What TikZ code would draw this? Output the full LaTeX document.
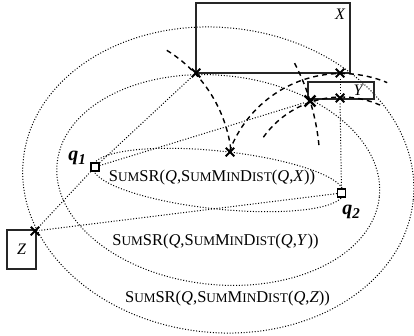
\documentclass[tikz,border=0pt]{standalone}
\usepackage{fontspec}
\setmainfont{Liberation Serif}
\usetikzlibrary{shapes.misc}
\newcommand\smc[1]{{\fontsize{13.2}{13.2}\selectfont #1}}
\newcommand\qlab[1]{{\fontsize{20}{20}\selectfont\bfseries\itshape q\raisebox{-4pt}{\fontsize{15}{15}\selectfont #1}}}
\begin{document}
\begin{tikzpicture}[x=1pt,y=-1pt,
  dotline/.style={line width=1pt, dash pattern=on 1pt off 1.8pt},
  dashline/.style={line width=1.4pt, dash pattern=on 5pt off 4pt},
  box/.style={draw=black!85, line width=1.2pt, inner sep=0, rectangle},
  xmark/.style={cross out, draw, line width=2pt, minimum size=6.5pt, inner sep=0},
  qbox/.style={draw, fill=white, line width=1.1pt, minimum size=8pt, inner sep=0},
  lbl/.style={font=\fontsize{16.5}{18}\selectfont, inner sep=0},
  let/.style={font=\fontsize{16}{18}\selectfont\itshape, inner sep=0}]
\useasboundingbox (0,0) rectangle (414,335);

\coordinate (Q1c) at (95,167);
\coordinate (Q2c) at (341.5,193);
\coordinate (E) at (218.25,180);

% ellipses with foci q1, q2
\draw[dotline, rotate around={-6.03:(E)}] (E) ellipse [x radius=126, y radius=29];
\draw[dotline, rotate around={-6.03:(E)}] (E) ellipse [x radius=162, y radius=104.6];
\draw[dotline, rotate around={-6.03:(E)}] (E) ellipse [x radius=196, y radius=152.5];

% rectangles
\node[box, minimum width=154, minimum height=70] (X) at (273,38) {};
\node[box, minimum width=66, minimum height=17] (Y) at (341,90.5) {};
\node[box, minimum width=29, minimum height=39] (Z) at (21.5,249.5) {};
\node[let] (Xl) at (340,14) {X};
\node[let] (Yl) at (358,90) {Y};
\node[let] (Zl) at (21.5,249) {Z};

% query points
\node[qbox] (q1) at (Q1c) {};
\node[qbox] (q2) at (Q2c) {};
\node[inner sep=0] (q1l) at (77,158) {\qlab{1}};
\node[inner sep=0] (q2l) at (351,212) {\qlab{2}};

% crosses
\node[xmark] (cX1) at (196,73) {};
\node[xmark] (cX2) at (340,73) {};
\node[xmark] (cY) at (340,98) {};
\node[xmark, minimum size=8.5pt, line width=2.4pt] (cB) at (310,101) {};
\node[xmark] (cM) at (230,152) {};
\node[xmark] (cZ) at (35,231) {};

% dotted straight connectors
\draw[dotline] (q1) -- (cX1);
\draw[dotline] (q1) -- (cB);
\draw[dotline] (q1) -- (cZ);
\draw[dotline] (q2) -- (cZ);
\draw[dotline] (q2) -- (cY);
\draw[dotline] (cY) -- (cX2);

% dashed circular arcs
\draw[dashline] (Q1c) ++(-58.4:137) arc[start angle=-58.4, end angle=-6.3, radius=137];
\draw[dashline] (Q1c) ++(-27.5:225) arc[start angle=-27.5, end angle=-5, radius=225];
\draw[dashline] (Q2c) ++(-159.8:119.5) arc[start angle=-159.8, end angle=-67.5, radius=119.5];
\draw[dashline] (Q2c) ++(-144.5:96) arc[start angle=-144.5, end angle=-64, radius=96];

% texts
\node[lbl, anchor=base] (t1) at (212,181) {S\smc{UM}SR(\textit{Q},S\smc{UM}M\smc{IN}D\smc{IST}(\textit{Q},\textit{X}))};
\node[lbl, anchor=base] (t2) at (215.5,245) {S\smc{UM}SR(\textit{Q},S\smc{UM}M\smc{IN}D\smc{IST}(\textit{Q},\textit{Y}))};
\node[lbl, anchor=base] (t3) at (227.5,302.5) {S\smc{UM}SR(\textit{Q},S\smc{UM}M\smc{IN}D\smc{IST}(\textit{Q},\textit{Z}))};
\end{tikzpicture}
\end{document}
